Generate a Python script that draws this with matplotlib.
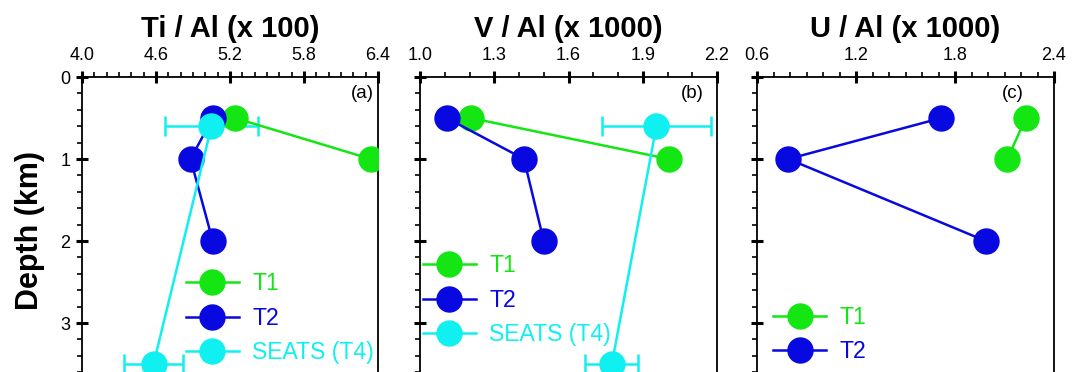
import numpy as np
import matplotlib
matplotlib.use("Agg")
import matplotlib.pyplot as plt
from matplotlib.ticker import FixedLocator, MultipleLocator

plt.rcParams["font.family"] = ["Liberation Sans", "DejaVu Sans"]

# =====================================================
# DATA
# =====================================================

depth_t1 = [0.5, 1.0]
depth_t2 = [0.5, 1.0, 2.0]
depth_seats = [0.6, 3.5]

ti_t1 = [5.24, 6.34]
ti_t2 = [5.06, 4.88, 5.06]
ti_seats = [5.05, 4.58]
ti_seats_err = [0.38, 0.24]

v_t1 = [1.205, 2.005]
v_t2 = [1.108, 1.42, 1.50]
v_seats = [1.955, 1.775]
v_seats_err = [0.22, 0.107]

u_t1 = [2.23, 2.117]
u_t2 = [1.717, 0.79, 1.986]

titles = ["Ti / Al (x 100)", "V / Al (x 1000)", "U / Al (x 1000)"]
panel_tags = ["(a)", "(b)", "(c)"]
x_ranges = [(4.0, 6.4), (1.0, 2.2), (0.6, 2.4)]
x_ticks = [[4.0, 4.6, 5.2, 5.8, 6.4],
           [1.0, 1.3, 1.6, 1.9, 2.2],
           [0.6, 1.2, 1.8, 2.4]]
depth_ticks = [0, 1, 2, 3]

green = "#14e614"
blue = "#0808e0"
cyan = "#10f0f0"

# =====================================================
# FIGURE LAYOUT
# =====================================================

W, H = 1079, 372
fig = plt.figure(figsize=(W / 100, H / 100), dpi=100)

top_px = 77
px_per_km = 82
ymax = 4.0
lefts_px = [82, 420, 757]
widths_px = [296, 297, 297]

axes = []
for lp, wp in zip(lefts_px, widths_px):
    h = ymax * px_per_km
    ax = fig.add_axes([lp / W, 1 - (top_px + h) / H, wp / W, h / H])
    axes.append(ax)

ms = 18
lw = 1.8


def style_axis(ax, xr, ticks, show_ylabels):
    ax.set_xlim(*xr)
    ax.set_ylim(ymax, 0)
    ax.xaxis.tick_top()
    ax.xaxis.set_major_locator(FixedLocator(ticks))
    ax.xaxis.set_minor_locator(MultipleLocator(0.1))
    ax.yaxis.set_major_locator(FixedLocator(depth_ticks))
    ax.yaxis.set_minor_locator(MultipleLocator(0.2))
    ax.xaxis.set_major_formatter(plt.FormatStrFormatter("%.1f"))
    ax.tick_params(which="major", direction="inout", length=9, width=2.2,
                   labelsize=13, top=True, bottom=False, left=True, right=False)
    ax.tick_params(which="minor", direction="out", length=3.5, width=1.2,
                   top=True, bottom=False, left=True, right=False)
    ax.tick_params(axis="x", which="major", pad=5)
    ax.tick_params(axis="y", which="major", pad=4)
    if not show_ylabels:
        ax.tick_params(axis="y", labelleft=False)
    for sp in ax.spines.values():
        sp.set_linewidth(1.3)


def seats_errors(ax, x, xerr):
    ax.errorbar(x, depth_seats, xerr=xerr, fmt="none", ecolor=cyan,
                elinewidth=1.8, capsize=7, capthick=1.8, zorder=2)


# =====================================================
# PANEL (a) - Ti / Al
# =====================================================

ax = axes[0]
seats_errors(ax, ti_seats, ti_seats_err)
ax.plot(ti_t1, depth_t1, "-o", color=green, ms=ms, lw=lw, label="T1", zorder=3)
ax.plot(ti_t2, depth_t2, "-o", color=blue, ms=ms, lw=lw, label="T2", zorder=4)
ax.plot(ti_seats, depth_seats, "-o", color=cyan, ms=ms, lw=lw,
        label="SEATS (T4)", zorder=5)
style_axis(ax, x_ranges[0], x_ticks[0], True)

# =====================================================
# PANEL (b) - V / Al
# =====================================================

ax = axes[1]
seats_errors(ax, v_seats, v_seats_err)
ax.plot(v_t1, depth_t1, "-o", color=green, ms=ms, lw=lw, label="T1", zorder=3)
ax.plot(v_t2, depth_t2, "-o", color=blue, ms=ms, lw=lw, label="T2", zorder=4)
ax.plot(v_seats, depth_seats, "-o", color=cyan, ms=ms, lw=lw,
        label="SEATS (T4)", zorder=5)
style_axis(ax, x_ranges[1], x_ticks[1], False)

# =====================================================
# PANEL (c) - U / Al
# =====================================================

ax = axes[2]
ax.plot(u_t1, depth_t1, "-o", color=green, ms=ms, lw=lw, label="T1", zorder=3)
ax.plot(u_t2, depth_t2, "-o", color=blue, ms=ms, lw=lw, label="T2", zorder=4)
style_axis(ax, x_ranges[2], x_ticks[2], False)

# =====================================================
# LEGENDS, TITLES, TAGS
# =====================================================

legend_anchor = [(0.351, 0.405), (0.01, 0.46), (0.054, 0.302)]
for ax, anchor in zip(axes, legend_anchor):
    ax.legend(loc="upper left", bbox_to_anchor=anchor, frameon=False,
              fontsize=16.6, handlelength=2.3, handletextpad=0.57,
              labelspacing=0.5, borderpad=0, borderaxespad=0,
              labelcolor="linecolor")

tag_pos = [(0.985, "right"), (0.955, "right"), (0.862, "center")]
for ax, tag, (tx, ha) in zip(axes, panel_tags, tag_pos):
    ax.text(tx, 1 - 16 / (ymax * px_per_km), tag, transform=ax.transAxes,
            ha=ha, va="center", fontsize=13.5)

for lp, wp, t in zip(lefts_px, widths_px, titles):
    fig.text((lp + wp / 2) / W, 1 - 37 / H, t, ha="center", va="baseline",
             fontsize=21, fontweight="bold")

fig.text(30 / W, 1 - 231 / H, "Depth (km)", rotation=90, ha="center",
         va="center", fontsize=22, fontweight="bold")

fig.savefig("out.png", dpi=100)
